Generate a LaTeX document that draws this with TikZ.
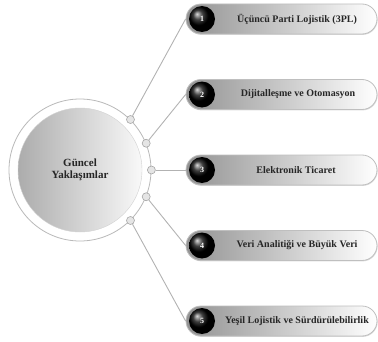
\documentclass[tikz,border=0pt]{standalone}
\usepackage{fontspec}
\setmainfont{Liberation Serif}
\usetikzlibrary{shapes.misc,shadows}

\begin{document}
\begin{tikzpicture}[x=1pt,y=1pt]
    \tikzstyle{pill}=[rounded rectangle,draw=gray!50,line width=0.8pt,left color=gray!85,right color=white,minimum width=191pt,minimum height=30pt,inner sep=0pt,drop shadow={opacity=0.3,shadow xshift=0.6pt,shadow yshift=-0.9pt}]
    \tikzstyle{badge}=[circle,ball color=black,text=white,font=\bfseries\fontsize{8}{8}\selectfont,minimum size=26pt,inner sep=0pt]
    \tikzstyle{itemtext}=[font=\bfseries\fontsize{10}{12}\selectfont,text=black!85]
    \tikzstyle{point}=[circle,draw=gray!70,fill=gray!20,line width=0.6pt,inner sep=0pt,minimum size=8pt]
    \tikzstyle{link}=[draw=gray!60,line width=0.9pt]
    \useasboundingbox (0,0) rectangle (378,341);
    % centre
    \node[circle,draw=gray!55,fill=white,line width=0.8pt,minimum size=142pt] (ring) at (80,171) {};
    \node[circle,draw=gray!35,left color=gray!65,right color=gray!5,minimum size=124pt,align=center,font=\bfseries\fontsize{11}{12.5}\selectfont,text=black!85] (core) at (80,171) {Güncel\\Yaklaşımlar};
    % items
    \node[pill] (b1) at (281.5,322) {};
    \node[badge] (n1) at (202,322) {1};
    \node[itemtext] (t1) at (297,322) {Üçüncü Parti Lojistik (3PL)};
    \node[pill] (b2) at (281.5,246.5) {};
    \node[badge] (n2) at (202,246.5) {2};
    \node[itemtext] (t2) at (298,246.5) {Dijitalleşme ve Otomasyon};
    \node[pill] (b3) at (281.5,171) {};
    \node[badge] (n3) at (202,171) {3};
    \node[itemtext] (t3) at (296,171) {Elektronik Ticaret};
    \node[pill] (b4) at (281.5,95.5) {};
    \node[badge] (n4) at (202,95.5) {4};
    \node[itemtext] (t4) at (297,95.5) {Veri Analitiği ve Büyük Veri};
    \node[pill] (b5) at (281.5,20) {};
    \node[badge] (n5) at (202,20) {5};
    \node[itemtext] (t5) at (297,20) {Yeşil Lojistik ve Sürdürülebilirlik};
    % dots and links
    \node[point] (p1) at (ring.45) {};
    \node[point] (p2) at (ring.22.5) {};
    \node[point] (p3) at (ring.0) {};
    \node[point] (p4) at (ring.-22.5) {};
    \node[point] (p5) at (ring.-45) {};
    \draw[link] (p1) -- (b1.west);
    \draw[link] (p2) -- (b2.west);
    \draw[link] (p3) -- (b3.west);
    \draw[link] (p4) -- (b4.west);
    \draw[link] (p5) -- (b5.west);
\end{tikzpicture}
\end{document}
